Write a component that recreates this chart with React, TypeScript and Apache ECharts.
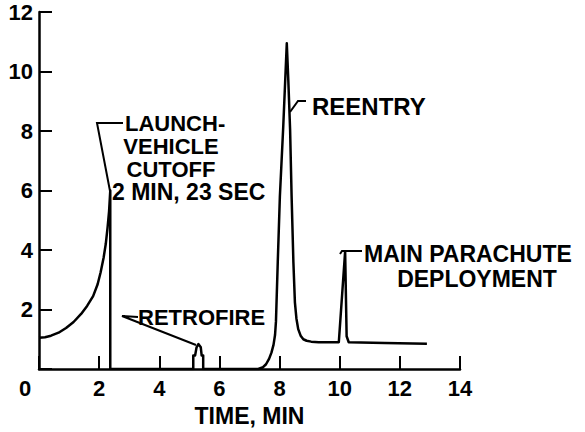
import { useEffect, useRef } from "react";
import * as echarts from "echarts";

// Acceleration (g) vs. time (min)
const timeMin = [
  0, 0.2, 0.4, 0.65, 0.9, 1.15, 1.4, 1.6, 1.8, 1.95, 2.05, 2.15, 2.22, 2.28, 2.33, 2.37,
  2.37, 5.13, 5.13, 5.19, 5.24, 5.3, 5.38, 5.41, 5.46, 5.46,
  7.29, 7.45, 7.55, 7.65, 7.73, 7.8, 7.85, 7.88, 7.94, 8.01, 8.12, 8.24,
  8.29, 8.35, 8.4, 8.46, 8.51, 8.56, 8.62, 8.7, 8.79, 8.9, 9.05, 9.3,
  9.97, 10.18, 10.23, 10.3, 11.5, 12.9,
];
const accelG = [
  1.05, 1.07, 1.12, 1.22, 1.38, 1.58, 1.85, 2.12, 2.45, 2.85, 3.25, 3.75, 4.2, 4.75, 5.3, 6.0,
  0, 0, 0.45, 0.45, 0.73, 0.84, 0.73, 0.45, 0.45, 0,
  0, 0.06, 0.16, 0.34, 0.55, 0.82, 1.15, 1.6, 3.6, 5.8, 8.1, 10.95,
  9.72, 8.05, 5.81, 3.58, 2.24, 1.7, 1.34, 1.12, 1.0, 0.95, 0.92, 0.9,
  0.9, 3.95, 1.1, 0.9, 0.87, 0.85,
];
const xTickValues = [0, 2, 4, 6, 8, 10, 12, 14];
const yTickValues = [0, 2, 4, 6, 8, 10, 12];
const xAxisTitle = "TIME, MIN";
const launchLines = ["LAUNCH-", "VEHICLE", "CUTOFF", "2 MIN, 23 SEC"];
const reentryLabel = "REENTRY";
const retrofireLabel = "RETROFIRE";
const parachuteLines = ["MAIN PARACHUTE", "DEPLOYMENT"];

const FONT = "'Liberation Sans', Arial, sans-serif";

function txt(text: string, x: number, y: number, align: string, size: number) {
  return {
    type: "text",
    x,
    y,
    silent: true,
    style: {
      text,
      fill: "#000",
      fontSize: size,
      fontFamily: FONT,
      fontWeight: "bold",
      align,
      verticalAlign: "middle",
      textAlign: align,
      textVerticalAlign: "middle",
    },
  };
}

function poly(points: number[][]) {
  return {
    type: "polyline",
    silent: true,
    shape: { points },
    style: { stroke: "#000", lineWidth: 2, fill: null },
  };
}

export default function App() {
  const ref = useRef<HTMLDivElement>(null);
  useEffect(() => {
    document.body.style.margin = "0";
    const chart = echarts.init(ref.current!, null, { renderer: "svg" });
    const data = timeMin.map((t, i) => [t, accelG[i]]);
    chart.setOption({
      animation: false,
      backgroundColor: "#fff",
      grid: { left: 39, right: 125, top: 12, bottom: 62, containLabel: false },
      xAxis: {
        type: "value",
        min: xTickValues[0],
        max: xTickValues[xTickValues.length - 1],
        interval: 2,
        name: xAxisTitle,
        nameLocation: "middle",
        nameGap: 35,
        nameTextStyle: { fontSize: 23, fontWeight: "bold", fontFamily: FONT, color: "#000" },
        axisLine: { lineStyle: { color: "#000", width: 2.5 } },
        axisTick: { inside: true, length: 13, lineStyle: { color: "#000", width: 2 } },
        axisLabel: {
          margin: 8,
          fontSize: 22,
          fontWeight: "bold",
          fontFamily: FONT,
          color: "#000",
          formatter: (v: number) => (v === 0 ? "{z|0}" : String(v)),
          rich: { z: { fontSize: 22, fontWeight: "bold", fontFamily: FONT, color: "#000", padding: [0, 28, 0, 0] } },
        },
        splitLine: { show: false },
      },
      yAxis: {
        type: "value",
        min: yTickValues[0],
        max: yTickValues[yTickValues.length - 1],
        interval: 2,
        axisLine: { show: true, lineStyle: { color: "#000", width: 2.5 } },
        axisTick: { show: true, inside: true, length: 13, lineStyle: { color: "#000", width: 2 } },
        axisLabel: {
          margin: 6,
          fontSize: 22,
          fontWeight: "bold",
          fontFamily: FONT,
          color: "#000",
          formatter: (v: number) => (v === 0 ? "" : String(v)),
        },
        splitLine: { show: false },
      },
      series: [
        {
          type: "line",
          data,
          showSymbol: false,
          symbol: "none",
          smooth: false,
          lineStyle: { color: "#000", width: 2.5, join: "round" },
        },
      ],
      graphic: [
        // launch vehicle cutoff
        poly([[110, 191], [97, 123], [123, 123]]),
        txt(launchLines[0], 125, 123, "left", 22),
        txt(launchLines[1], 171, 146, "center", 22),
        txt(launchLines[2], 171, 169, "center", 22),
        txt(launchLines[3], 112, 192, "left", 23),
        // retrofire
        poly([[138, 317], [122, 316], [196, 345]]),
        txt(retrofireLabel, 138, 317, "left", 22),
        // reentry
        poly([[290, 112], [298, 101], [306, 101]]),
        txt(reentryLabel, 312, 106, "left", 24),
        // main parachute
        poly([[340, 254], [342, 251], [362, 251]]),
        txt(parachuteLines[0], 364, 254, "left", 23),
        txt(parachuteLines[1], 477, 279, "center", 23),
      ],
    });
    return () => chart.dispose();
  }, []);
  return <div ref={ref} style={{ width: 585, height: 432 }} />;
}
